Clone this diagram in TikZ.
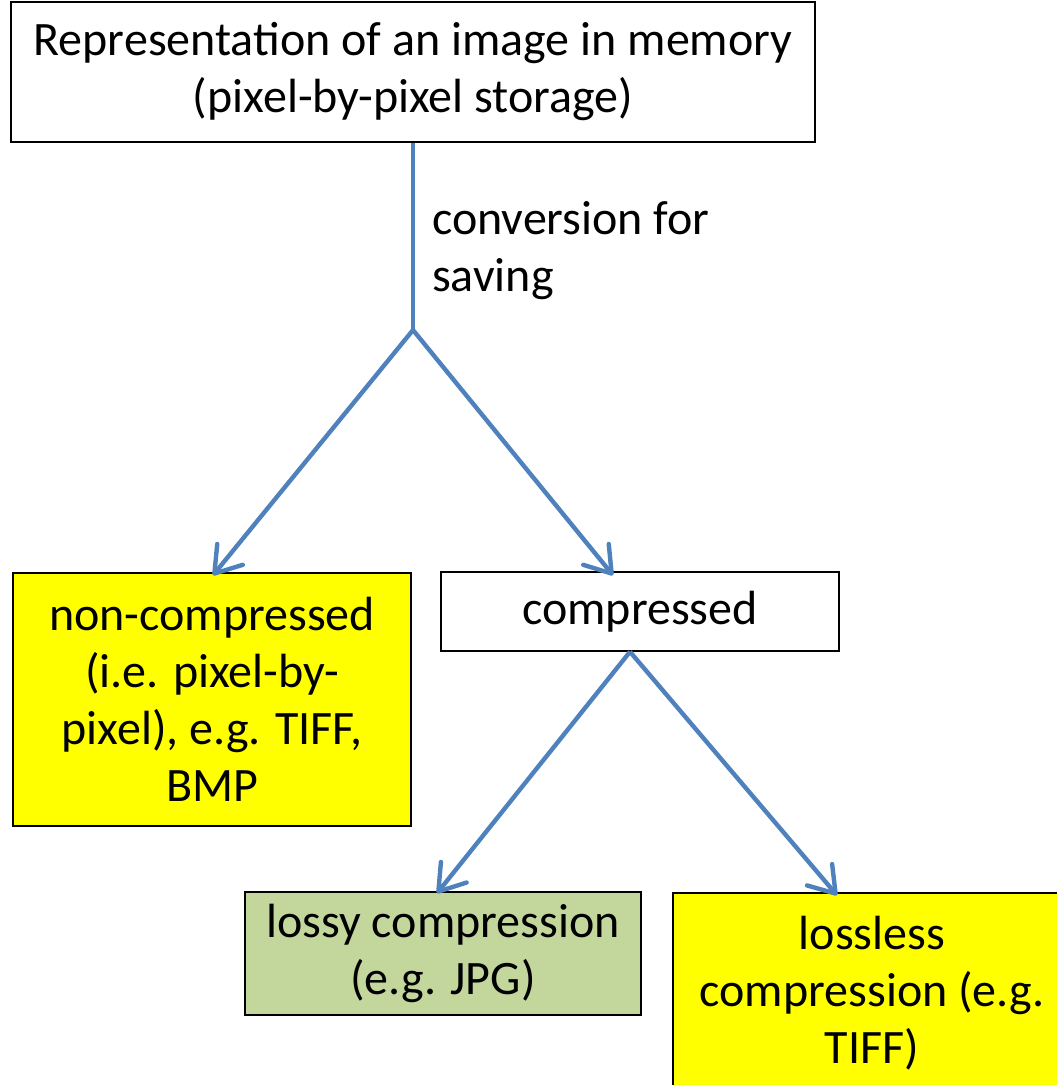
\documentclass[tikz,border=0pt]{standalone}
\usepackage{fontspec}
\setmainfont{Carlito}
\usepackage{xcolor}
\usepackage{tikz}
\usetikzlibrary{calc,arrows.meta,positioning}
\definecolor{linex}{HTML}{4F81BD}
\definecolor{yellowx}{HTML}{FFFF00}
\definecolor{greenx}{HTML}{C3D69B}
\tikzset{
  ar/.style={-{Straight Barb[scale length=2.4,scale width=1.6,round]},line width=4.4pt,linex},
  ln/.style={line width=4.4pt,linex},
  box/.style={draw=black,line width=1.5pt,align=center,inner sep=0pt,
    font=\fontsize{48}{57}\selectfont}
}
\begin{document}
\begin{tikzpicture}[x=1pt,y=-1pt]
\useasboundingbox (0,0) rectangle (1057,1085);
% boxes
\node[box,minimum width=804pt,minimum height=140pt] (mem) at (413,72)
  {Representation of an image in memory\\(pixel-by-pixel storage)};
\node[box,fill=yellowx,minimum width=398pt,minimum height=253pt] (raw) at (212,699.5)
  {non-compressed\\(i.e. pixel-by-\\pixel), e.g. TIFF,\\BMP};
\node[box,minimum width=398pt,minimum height=79pt] (comp) at (640,611.5)
  {compressed};
\node[box,fill=greenx,minimum width=396pt,minimum height=123pt] (lossy) at (443,953.5)
  {lossy compression\\(e.g. JPG)};
\node[box,fill=yellowx,minimum width=398pt,minimum height=200pt] (lossless) at (872,993)
  {lossless\\compression (e.g.\\TIFF)};
% connectors
\coordinate (split) at (413,330);
\coordinate (split2) at ([xshift=-10pt]comp.south);
\draw[ln] (mem.south) -- node[right,align=left,inner sep=0pt,xshift=17pt,yshift=-14pt,
  text=black,font=\fontsize{48}{57}\selectfont] {conversion for\\saving} (split);
\draw[ar] (split) -- ([xshift=1pt,yshift=-3pt]raw.north);
\draw[ar] (split) -- ([xshift=-27pt,yshift=-4pt]comp.north);
\draw[ar] (split2) -- ([xshift=-6pt,yshift=-2pt]lossy.north);
\draw[ar] (split2) -- ([xshift=-35pt,yshift=-3pt]lossless.north);
\end{tikzpicture}
\end{document}
